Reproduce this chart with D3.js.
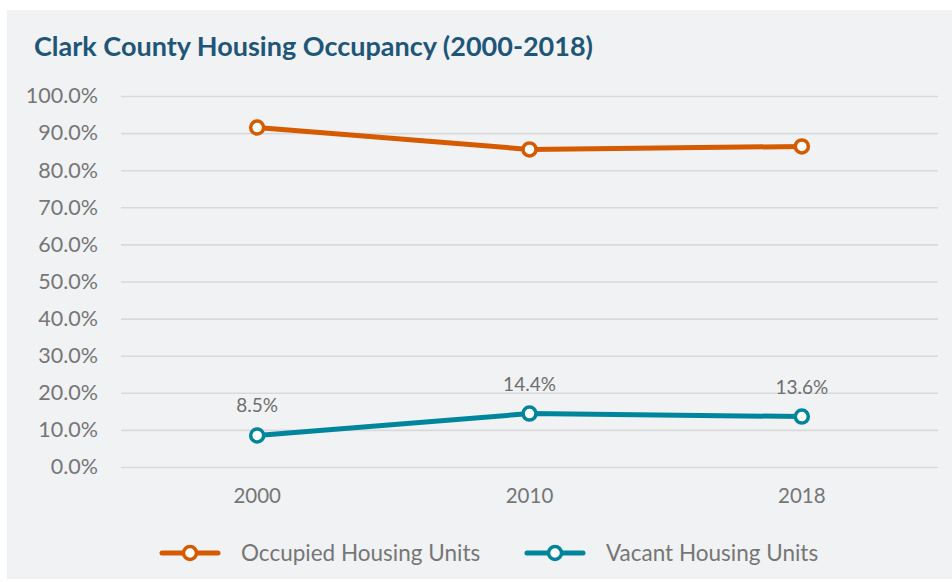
<!DOCTYPE html>
<html>
<head>
<meta charset="utf-8">
<script src="https://cdn.jsdelivr.net/npm/d3@7"></script>
<style>
  html, body { margin: 0; padding: 0; background: #ffffff; }
  svg { display: block; }
</style>
</head>
<body>
<svg id="chart" width="952" height="582"></svg>
<script>
// Census years shown along the x axis
const years = ["2000", "2010", "2018"];
// Share of housing units, in percent
const occupied = [91.5, 85.6, 86.4];
const vacant = [8.5, 14.4, 13.6];
const yTicks = [0, 10, 20, 30, 40, 50, 60, 70, 80, 90, 100];
const seriesNames = ["Occupied Housing Units", "Vacant Housing Units"];
const seriesColors = ["#d65a00", "#00869c"];

const svg = d3.select("#chart");
const W = 952, H = 582;

// panel background
svg.append("rect").attr("x", 7).attr("y", 10).attr("width", W - 7).attr("height", 569)
  .attr("fill", "#f1f2f4");

// title
svg.append("text")
  .attr("x", 34).attr("y", 56)
  .attr("font-family", "Lato, sans-serif")
  .attr("font-weight", 700)
  .attr("font-size", 27)
  .attr("fill", "#1e5678")
  .text("Clark County Housing Occupancy (2000-2018)");

const x = d3.scaleBand().domain(years).range([121, 938]);
const y = d3.scaleLinear().domain([0, 100]).range([467, 96]);

// gridlines + y tick labels
const yAxis = d3.axisLeft(y).tickValues(yTicks)
  .tickSize(-(x.range()[1] - x.range()[0]))
  .tickPadding(23)
  .tickFormat(d => d3.format(".1f")(d) + "%");
const gy = svg.append("g").attr("transform", `translate(${x.range()[0]},0)`).call(yAxis);
gy.select(".domain").remove();
gy.selectAll(".tick line").attr("stroke", "#d9d9d9").attr("stroke-width", 1.6);
gy.selectAll(".tick text")
  .attr("font-family", "Lato, sans-serif").attr("font-size", 21.5)
  .attr("fill", "#767676");

// x axis labels
const xAxis = d3.axisBottom(x).tickSize(0).tickPadding(21);
const gx = svg.append("g").attr("transform", `translate(0,${y(0)})`).call(xAxis);
gx.select(".domain").remove();
gx.selectAll(".tick text")
  .attr("font-family", "Lato, sans-serif").attr("font-size", 20.5)
  .attr("fill", "#767676");

const cx = d => x(d) + x.bandwidth() / 2;
const line = d3.line().x(d => cx(d.year)).y(d => y(d.value));

[occupied, vacant].forEach((vals, i) => {
  const pts = years.map((yr, j) => ({ year: yr, value: vals[j] }));
  svg.append("path").datum(pts)
    .attr("d", line)
    .attr("fill", "none")
    .attr("stroke", seriesColors[i])
    .attr("stroke-width", 5)
    .attr("stroke-linejoin", "round");
  svg.selectAll(null).data(pts).enter().append("circle")
    .attr("cx", d => cx(d.year)).attr("cy", d => y(d.value))
    .attr("r", 6.5)
    .attr("fill", "#ffffff")
    .attr("stroke", seriesColors[i])
    .attr("stroke-width", 3.5);
});

// value labels on the vacant series
svg.selectAll(null).data(years.map((yr, j) => ({ year: yr, value: vacant[j] }))).enter()
  .append("text")
  .attr("x", d => cx(d.year)).attr("y", d => y(d.value) - 23)
  .attr("text-anchor", "middle")
  .attr("font-family", "Lato, sans-serif").attr("font-size", 19)
  .attr("fill", "#6d6d6d")
  .text(d => d3.format(".1f")(d.value) + "%");

// legend
const legendX = [162, 527];
seriesNames.forEach((name, i) => {
  const g = svg.append("g").attr("transform", `translate(${legendX[i]},553)`);
  g.append("line").attr("x1", 0).attr("x2", 56).attr("y1", 0).attr("y2", 0)
    .attr("stroke", seriesColors[i]).attr("stroke-width", 5).attr("stroke-linecap", "round");
  g.append("circle").attr("cx", 28).attr("cy", 0).attr("r", 6.5)
    .attr("fill", "#ffffff").attr("stroke", seriesColors[i]).attr("stroke-width", 3.5);
  g.append("text").attr("x", 79).attr("y", 0).attr("dy", "0.35em")
    .attr("font-family", "Lato, sans-serif").attr("font-size", 22.5)
    .attr("fill", "#767676")
    .text(name);
});
</script>
</body>
</html>
